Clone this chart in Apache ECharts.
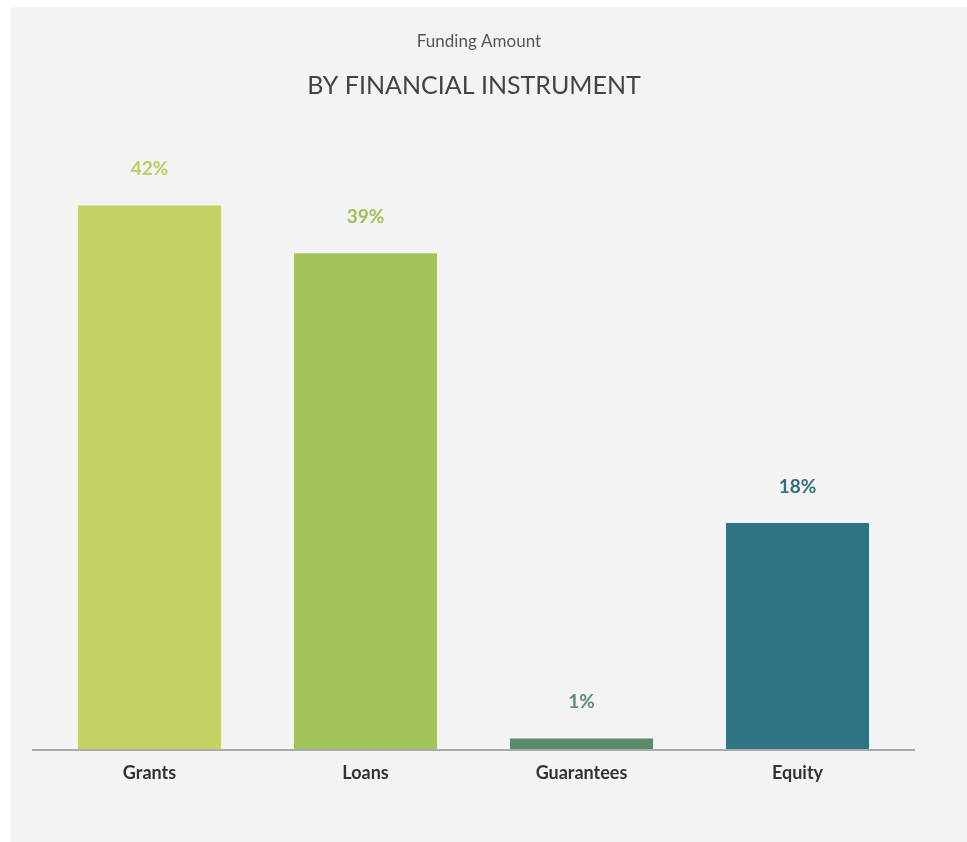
<!DOCTYPE html>
<html>
<head>
<meta charset="utf-8">
<script src="https://cdn.jsdelivr.net/npm/echarts@6/dist/echarts.min.js"></script>
<style>
  html, body { margin: 0; padding: 0; background: #ffffff; }
  #panel { position: absolute; left: 11px; top: 7px; width: 956px; height: 835px; background: #f3f3f3; }
  #chart { position: absolute; left: 0; top: 0; width: 967px; height: 842px; }
</style>
</head>
<body>
<div id="panel"></div>
<div id="chart"></div>
<script>
const categories = ["Grants", "Loans", "Guarantees", "Equity"];
const values = [42.2, 38.5, 0.9, 17.6];
const valueLabels = ["42%", "39%", "1%", "18%"];
const barColors = ["#c5d263", "#a2c358", "#5a8a6e", "#2f7482"];
const labelColors = ["#bfcc64", "#9ec05a", "#5f8b77", "#356f7e"];

const chart = echarts.init(document.getElementById('chart'));
const font = 'Lato, "Open Sans", sans-serif';
chart.setOption({
  backgroundColor: 'transparent',
  animation: false,
  title: [
    { text: 'Funding Amount', left: 474, top: 28, textAlign: 'center',
      textStyle: { fontFamily: font, fontSize: 17, fontWeight: 'normal', color: '#555555' } },
    { text: 'BY FINANCIAL INSTRUMENT', left: 469, top: 68, textAlign: 'center',
      textStyle: { fontFamily: font, fontSize: 25, fontWeight: 'normal', color: '#444444', letterSpacing: 0.5 } }
  ],
  grid: { left: 41.5, right: 61.5, top: 105, bottom: 92 },
  xAxis: {
    type: 'category',
    data: categories,
    axisLine: { show: false },
    axisTick: { show: false },
    axisLabel: { fontFamily: font, fontSize: 18, fontWeight: 'bold', color: '#333333', margin: 14 }
  },
  yAxis: { type: 'value', min: 0, max: 50, show: false, splitLine: { show: false } },
  series: [{
    type: 'bar',
    barWidth: 143,
    data: values.map((v, i) => ({ value: v, itemStyle: { color: barColors[i] },
      label: { color: labelColors[i] } })),
    label: {
      show: true, position: 'top', distance: 27,
      fontFamily: font, fontSize: 19, fontWeight: 'bold',
      formatter: p => valueLabels[p.dataIndex]
    },
    markLine: {
      silent: true, symbol: 'none', label: { show: false },
      lineStyle: { color: '#aaaaaa', width: 2, type: 'solid' },
      data: [[{ x: 32, yAxis: 0 }, { x: 915, yAxis: 0 }]]
    },
    z: 2
  }]
});
</script>
</body>
</html>
